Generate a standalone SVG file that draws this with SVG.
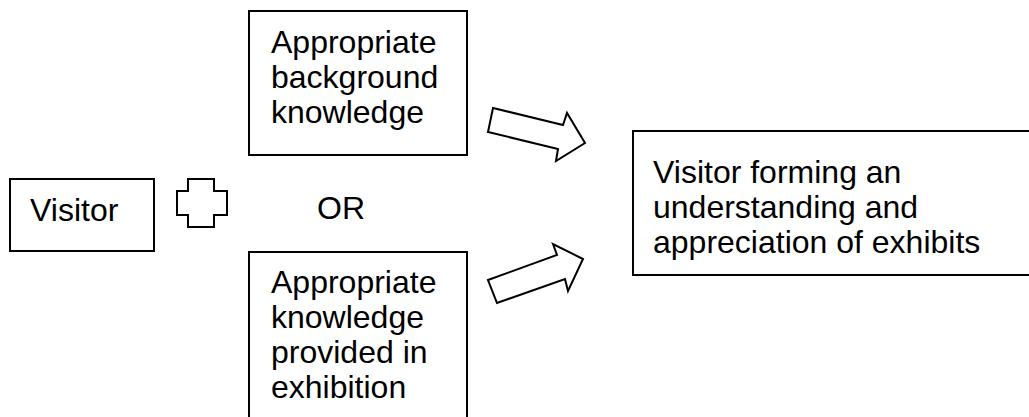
<svg xmlns="http://www.w3.org/2000/svg" width="1029" height="417" viewBox="0 0 1029 417">
<style>
.box{fill:#fff;stroke:#000;stroke-width:2}
.shape{fill:#fff;stroke:#000;stroke-width:2;stroke-linejoin:miter}
text{font-family:"Liberation Sans",Arial,sans-serif;font-size:32px;fill:#000}
</style>
<rect width="1029" height="417" fill="#fff"/>
<g id="visitor">
<rect class="box" x="10" y="179" width="144" height="72"/>
<text x="30" y="221">Visitor</text>
</g>
<g id="plus">
<polygon class="shape" points="188,179 214,179 214,191 227,191 227,215 214,215 214,227 188,227 188,215 177,215 177,191 188,191"/>
</g>
<g id="or">
<text x="317" y="219">OR</text>
</g>
<g id="background">
<rect class="box" x="249" y="11" width="218" height="144"/>
<text x="271" y="53">Appropriate</text>
<text x="271" y="88">background</text>
<text x="271" y="123">knowledge</text>
</g>
<g id="provided">
<rect class="box" x="249" y="252" width="218" height="180"/>
<text x="271" y="293">Appropriate</text>
<text x="271" y="328">knowledge</text>
<text x="271" y="363">provided in</text>
<text x="271" y="398">exhibition</text>
</g>
<g id="result">
<rect class="box" x="633" y="131" width="410" height="144"/>
<text x="653" y="183">Visitor forming an</text>
<text x="653" y="218">understanding and</text>
<text x="653" y="253">appreciation of exhibits</text>
</g>
<g id="connectors">
<polygon class="shape" points="493,108 563,125 567,113 585,143 556,161 558,149 488,132"/>
<polygon class="shape" points="488,280 557,255 553,244 583,259 568,291 565,279 497,303"/>
</g>
</svg>
